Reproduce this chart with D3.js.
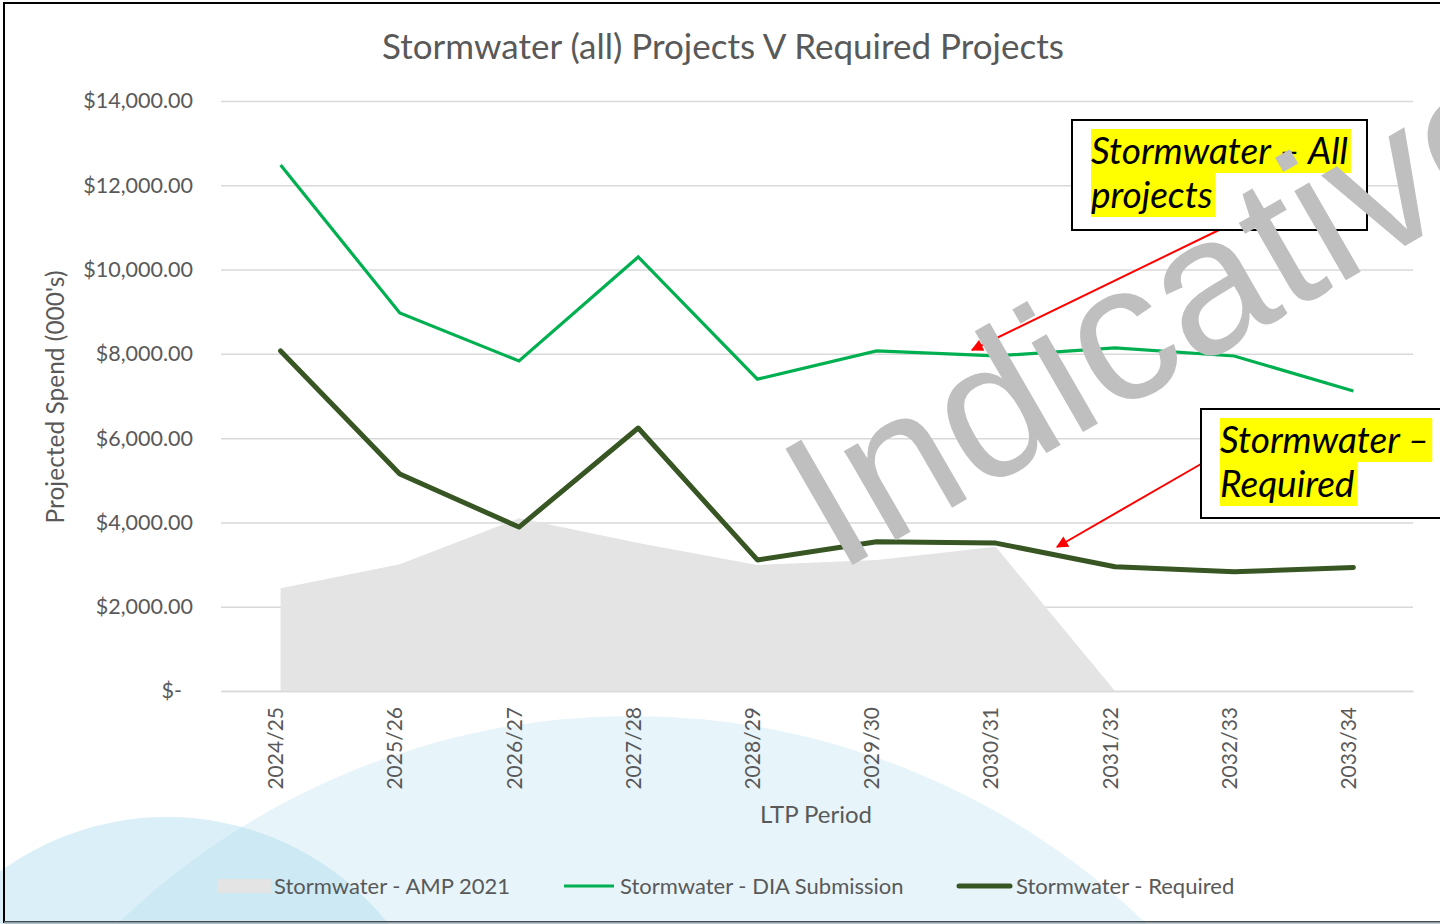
<!DOCTYPE html>
<html>
<head>
<meta charset="utf-8">
<script src="https://cdn.jsdelivr.net/npm/d3@7"></script>
<style>
  html, body { margin: 0; padding: 0; background: #fff; }
  svg { display: block; }
  text { font-family: Lato, "Open Sans", sans-serif; }
</style>
</head>
<body>
<script>

// chart data
var periods = ["2024/25", "2025/26", "2026/27", "2027/28", "2028/29",
               "2029/30", "2030/31", "2031/32", "2032/33", "2033/34"];
var amp2021 = [2440, 3010, 4100, 3510, 2990, 3110, 3420, 0, null, null];
var diaSubmission = [12480, 8970, 7830, 10300, 7400, 8070, 7950, 8140, 7950, 7120];
var required = [8070, 5150, 3890, 6240, 3110, 3540, 3510, 2950, 2830, 2930];
var yTicks = [0, 2000, 4000, 6000, 8000, 10000, 12000, 14000];
var seriesNames = ["Stormwater - AMP 2021", "Stormwater - DIA Submission", "Stormwater - Required"];

var W = 1440, H = 924;
var plotL = 221, plotR = 1413, plotT = 101, plotB = 691;

var svg = d3.select("body").append("svg")
    .attr("width", W)
    .attr("height", H);

// slide background circles
svg.append("circle")
    .attr("cx", 632).attr("cy", 1457).attr("r", 741)
    .attr("fill", "#a8d8ec").attr("fill-opacity", 0.28);
svg.append("circle")
    .attr("cx", 167).attr("cy", 1100).attr("r", 283)
    .attr("fill", "#a8d8ec").attr("fill-opacity", 0.42);

// frame
svg.append("rect")
    .attr("x", 4).attr("y", 3)
    .attr("width", W + 20).attr("height", 919)
    .attr("fill", "none").attr("stroke", "#000").attr("stroke-width", 2);
svg.append("line")
    .attr("x1", 4).attr("x2", W).attr("y1", 922.5).attr("y2", 922.5)
    .attr("stroke", "#8c9aa3").attr("stroke-width", 2);

var x = d3.scalePoint().domain(periods).range([plotL, plotR]).padding(0.5);
var y = d3.scaleLinear().domain([0, 14000]).range([plotB, plotT]);

// gridlines
svg.append("g")
    .attr("transform", "translate(" + plotL + ",0)")
    .call(d3.axisLeft(y).tickValues(yTicks).tickSize(-(plotR - plotL)).tickFormat(""))
    .call(function(g) {
      g.select(".domain").remove();
      g.selectAll("line").attr("stroke", "#d9d9d9").attr("stroke-width", 1.5);
    });

// y axis labels
var money = d3.format(",.2f");
svg.append("g")
    .attr("transform", "translate(" + plotL + ",0)")
    .call(d3.axisLeft(y).tickValues(yTicks).tickSize(0).tickPadding(28)
      .tickFormat(function(d) { return d === 0 ? "$-" : "$" + money(d); }))
    .call(function(g) {
      g.select(".domain").remove();
      g.selectAll("text")
        .attr("fill", "#595959")
        .style("font-size", "21.5px")
        .style("font-family", "Lato, sans-serif")
        .attr("dx", function(d) { return d === 0 ? -11 : 0; });
    });

// area series
var area = d3.area()
    .defined(function(d) { return d.v !== null; })
    .x(function(d) { return x(d.p); })
    .y0(y(0))
    .y1(function(d) { return y(d.v); });

svg.append("path")
    .datum(periods.map(function(p, i) { return { p: p, v: amp2021[i] }; }))
    .attr("d", area)
    .attr("fill", "#e4e4e4");

// x axis
svg.append("g")
    .attr("transform", "translate(0," + plotB + ")")
    .call(d3.axisBottom(x).tickSize(0))
    .call(function(g) {
      g.select(".domain").attr("stroke", "#d9d9d9").attr("stroke-width", 1.5);
      g.selectAll("text")
        .attr("transform", "rotate(-90)")
        .attr("text-anchor", "end")
        .attr("x", -16)
        .attr("y", 0)
        .attr("dy", "0.1em")
        .attr("fill", "#595959")
        .style("font-size", "21px")
        .style("font-family", "Lato, sans-serif");
    });

var line = d3.line()
    .x(function(d, i) { return x(periods[i]); })
    .y(function(d) { return y(d); });

svg.append("path")
    .datum(diaSubmission)
    .attr("d", line)
    .attr("fill", "none")
    .attr("stroke", "#00b050")
    .attr("stroke-width", 3.2);

svg.append("path")
    .datum(required)
    .attr("d", line)
    .attr("fill", "none")
    .attr("stroke", "#375623")
    .attr("stroke-width", 5)
    .attr("stroke-linejoin", "round")
    .attr("stroke-linecap", "round");

// titles
svg.append("text")
    .attr("x", 723).attr("y", 59)
    .attr("text-anchor", "middle")
    .attr("fill", "#595959")
    .style("font-size", "35px")
    .text("Stormwater (all) Projects V Required Projects");

svg.append("text")
    .attr("transform", "translate(64,397) rotate(-90)")
    .attr("text-anchor", "middle")
    .attr("fill", "#595959")
    .style("font-size", "24.5px")
    .text("Projected Spend (000's)");

svg.append("text")
    .attr("x", 816).attr("y", 823)
    .attr("text-anchor", "middle")
    .attr("fill", "#595959")
    .style("font-size", "24px")
    .text("LTP Period");

// legend
var legend = svg.append("g");
legend.append("rect")
    .attr("x", 217).attr("y", 879).attr("width", 54).attr("height", 14)
    .attr("fill", "#e4e4e4");
legend.append("line")
    .attr("x1", 564).attr("x2", 614).attr("y1", 886).attr("y2", 886)
    .attr("stroke", "#00b050").attr("stroke-width", 3.2);
legend.append("line")
    .attr("x1", 959).attr("x2", 1010).attr("y1", 886).attr("y2", 886)
    .attr("stroke", "#375623").attr("stroke-width", 5).attr("stroke-linecap", "round");
legend.selectAll("text.lg")
    .data(seriesNames)
    .enter().append("text")
    .attr("class", "lg")
    .attr("x", function(d, i) { return [274, 620, 1016][i]; })
    .attr("y", 894)
    .attr("fill", "#595959")
    .style("font-size", "22px")
    .text(function(d) { return d; });

// red arrows
svg.append("defs").append("marker")
    .attr("id", "head")
    .attr("viewBox", "0 0 10 10")
    .attr("refX", 9).attr("refY", 5)
    .attr("markerWidth", 7).attr("markerHeight", 6)
    .attr("markerUnits", "strokeWidth")
    .attr("orient", "auto")
  .append("path")
    .attr("d", "M0,0 L10,5 L0,10 z")
    .attr("fill", "#ff0000");

svg.append("line")
    .attr("x1", 1219).attr("y1", 230).attr("x2", 972).attr("y2", 350)
    .attr("stroke", "#ff0000").attr("stroke-width", 2)
    .attr("marker-end", "url(#head)");
svg.append("line")
    .attr("x1", 1201).attr("y1", 464).attr("x2", 1057).attr("y2", 547)
    .attr("stroke", "#ff0000").attr("stroke-width", 2)
    .attr("marker-end", "url(#head)");

// callout boxes
function callout(bx, by, bw, bh, tx, lines, baselines) {
  var g = svg.append("g");
  g.append("rect")
      .attr("x", bx).attr("y", by).attr("width", bw).attr("height", bh)
      .attr("fill", "#fff").attr("stroke", "#000").attr("stroke-width", 2);
  lines.forEach(function(t, i) {
    var hl = g.append("rect").attr("fill", "#ffff00");
    var txt = g.append("text")
        .attr("x", tx).attr("y", baselines[i])
        .attr("fill", "#000")
        .style("font-size", "37px")
        .style("font-style", "italic")
        .text(t);
    var w = txt.node().getComputedTextLength();
    hl.attr("x", tx).attr("y", baselines[i] - 35).attr("width", w + 3).attr("height", 44);
  });
}
callout(1072, 120, 295, 110, 1091, ["Stormwater \u2013 All", "projects"], [164, 208]);
callout(1201, 409, 260, 109, 1220, ["Stormwater \u2013", "Required"], [453, 497]);

// watermark
svg.append("text")
    .attr("transform", "translate(837,574) rotate(-30)")
    .attr("fill", "#bfbfbf")
    .style("font-family", "'Liberation Sans', Arial, sans-serif")
    .style("font-size", "195px")
    .text("Indicative");

</script>
</body>
</html>
